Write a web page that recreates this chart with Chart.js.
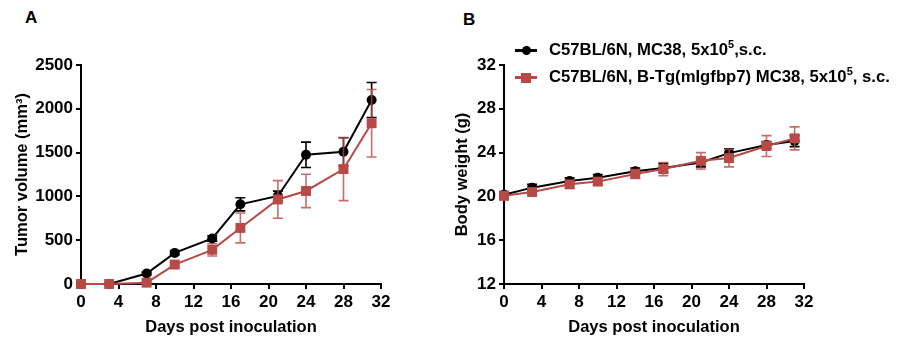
<!DOCTYPE html>
<html>
<head>
<meta charset="utf-8">
<script src="https://cdn.jsdelivr.net/npm/chart.js@4.4.1/dist/chart.umd.min.js"></script>
<style>
  html, body { margin: 0; padding: 0; background: #fff; }
  #wrap { position: relative; width: 898px; height: 343px; font-family: "Liberation Sans", Arial, sans-serif; }
  .panel { position: absolute; top: 0; width: 449px; height: 343px; }
  .tag { position: absolute; font-weight: bold; font-size: 17px; line-height: 1; color: #000; }
  .leg { position: absolute; left: 515px; font-weight: bold; font-size: 16.7px; line-height: 20px; color: #000; white-space: nowrap; }
  .leg .ln { position: absolute; left: 0; top: 9px; width: 22px; height: 3px; }
  .leg .mk { position: absolute; }
  .leg .tx { position: absolute; left: 34px; top: 0; }
  .leg sup { font-size: 11px; line-height: 0; }
</style>
</head>
<body>
<div id="wrap">
  <div class="tag" style="left:25px; top:9px;">A</div>
  <div class="tag" style="left:463px; top:11px;">B</div>
  <div class="panel" style="left:0;"><canvas id="chartTumor" width="449" height="343"></canvas></div>
  <div class="panel" style="left:449px;"><canvas id="chartPeso" width="449" height="343"></canvas></div>
  <div class="leg" style="top:40px;">
    <div class="ln" style="background:#000;"></div>
    <div class="mk" style="left:7px; top:6px; width:9px; height:9px; border-radius:50%; background:#000;"></div>
    <div class="tx">C57BL/6N, MC38, 5x10<sup>5</sup>,s.c.</div>
  </div>
  <div class="leg" style="top:67px;">
    <div class="ln" style="background:#B84946;"></div>
    <div class="mk" style="left:6px; top:6px; width:10px; height:10px; background:#B84946;"></div>
    <div class="tx">C57BL/6N, B-Tg(mIgfbp7) MC38, 5x10<sup>5</sup>, s.c.</div>
  </div>
</div>
<script>
// Datos
const dias = [0, 3, 7, 10, 14, 17, 21, 24, 28, 31];

const tumorControl = [0, 0, 120, 355, 520, 910, 1005, 1475, 1510, 2100];
const tumorControlErr = [0, 0, 15, 20, 30, 75, 55, 145, 160, 200];
const tumorTg = [0, 0, 15, 222, 390, 640, 965, 1062, 1312, 1835];
const tumorTgErr = [0, 0, 10, 25, 70, 170, 215, 190, 360, 385];

const pesoControl = [20.15, 20.8, 21.4, 21.7, 22.3, 22.6, 23.1, 23.95, 24.7, 25.05];
const pesoControlErr = [0.3, 0.3, 0.3, 0.3, 0.3, 0.4, 0.4, 0.4, 0.3, 0.5];
const pesoTg = [20.05, 20.4, 21.1, 21.35, 22.05, 22.5, 23.25, 23.5, 24.6, 25.3];
const pesoTgErr = [0.3, 0.3, 0.3, 0.3, 0.4, 0.6, 0.75, 0.8, 0.95, 1.05];

const tumorTicks = [0, 500, 1000, 1500, 2000, 2500];
const pesoTicks = [12, 16, 20, 24, 28, 32];
const diasTicks = [0, 4, 8, 12, 16, 20, 24, 28, 32];

const COLOR_NEGRO = '#000000';
const COLOR_ROJO = '#B84946';
const FUENTE = '"Liberation Sans", Arial, sans-serif';

// barras de error dibujadas con las escalas de la gráfica
const barrasError = {
    id: 'barrasError',
    beforeDatasetDraw(chart, args) {
        const ds = chart.data.datasets[args.index];
        if (!ds.errores) return;
        const meta = args.meta;
        const yScale = chart.scales[meta.yAxisID];
        const ctx = chart.ctx;
        ctx.save();
        ctx.strokeStyle = ds.colorError || ds.borderColor;
        ctx.lineWidth = 1.6;
        meta.data.forEach((pt, i) => {
            const e = ds.errores[i];
            if (!e) return;
            const v = ds.data[i].y;
            const yTop = yScale.getPixelForValue(v + e);
            const yBot = yScale.getPixelForValue(v - e);
            ctx.beginPath();
            ctx.moveTo(pt.x, yTop); ctx.lineTo(pt.x, yBot);
            ctx.moveTo(pt.x - 5, yTop); ctx.lineTo(pt.x + 5, yTop);
            ctx.moveTo(pt.x - 5, yBot); ctx.lineTo(pt.x + 5, yBot);
            ctx.stroke();
        });
        ctx.restore();
    }
};

function puntos(vals) {
    return dias.map((d, i) => ({ x: d, y: vals[i] }));
}

function serie(vals, errs, color, estilo, radio, orden, colorErr) {
    return {
        data: puntos(vals),
        errores: errs,
        colorError: colorErr,
        borderColor: color,
        backgroundColor: color,
        borderWidth: 2,
        pointStyle: estilo,
        pointRadius: radio,
        pointHoverRadius: radio,
        pointBorderWidth: 0,
        order: orden,
        clip: false
    };
}

function ejes(yMin, yMax, yTicks, yTitulo, yAncho, yPadTitulo) {
    const grid = { drawOnChartArea: false, drawTicks: true, tickLength: 5, color: '#000', lineWidth: 2 };
    const fuenteTick = { family: FUENTE, size: 17, weight: 'bold' };
    const fuenteTitulo = { family: FUENTE, size: 16.5, weight: 'bold' };
    return {
        x: {
            type: 'linear', min: 0, max: 32,
            afterBuildTicks: s => { s.ticks = diasTicks.map(v => ({ value: v })); },
            afterFit: s => { s.height = 59; },
            grid: grid,
            border: { color: '#000', width: 2 },
            ticks: { color: '#000', font: fuenteTick, padding: 3, maxRotation: 0, callback: v => String(v) },
            title: { display: true, text: 'Days post inoculation', color: '#000', font: fuenteTitulo, padding: { top: 0, bottom: 6 } }
        },
        y: {
            type: 'linear', min: yMin, max: yMax,
            afterBuildTicks: s => { s.ticks = yTicks.map(v => ({ value: v })); },
            afterFit: s => { s.width = yAncho; },
            grid: grid,
            border: { color: '#000', width: 2 },
            ticks: { color: '#000', font: fuenteTick, padding: 3, callback: v => String(v) },
            title: { display: true, text: yTitulo, color: '#000', font: fuenteTitulo, padding: { top: yPadTitulo, bottom: 0 } }
        }
    };
}

document.addEventListener('DOMContentLoaded', function() {
    try {
        new Chart(document.getElementById('chartTumor').getContext('2d'), {
            type: 'line',
            data: {
                datasets: [
                    serie(tumorControl, tumorControlErr, COLOR_NEGRO, 'circle', 5, 2, COLOR_NEGRO),
                    serie(tumorTg, tumorTgErr, COLOR_ROJO, 'rect', 7, 1, 'rgba(184, 73, 70, 0.8)')
                ]
            },
            options: {
                responsive: false,
                animation: false,
                layout: { padding: { left: 0, right: 68, top: 65, bottom: 0 } },
                plugins: { legend: { display: false }, tooltip: { enabled: false } },
                scales: ejes(0, 2500, tumorTicks, 'Tumor volume (mm³)', 81, 13)
            },
            plugins: [barrasError]
        });
    } catch (e) { console.error('Error en chartTumor:', e); }

    try {
        new Chart(document.getElementById('chartPeso').getContext('2d'), {
            type: 'line',
            data: {
                datasets: [
                    serie(pesoControl, pesoControlErr, COLOR_NEGRO, 'circle', 5, 2, COLOR_NEGRO),
                    serie(pesoTg, pesoTgErr, COLOR_ROJO, 'rect', 7, 1, 'rgba(184, 73, 70, 0.8)')
                ]
            },
            options: {
                responsive: false,
                animation: false,
                layout: { padding: { left: 0, right: 94, top: 65, bottom: 0 } },
                plugins: { legend: { display: false }, tooltip: { enabled: false } },
                scales: ejes(12, 32, pesoTicks, 'Body weight (g)', 55, 4)
            },
            plugins: [barrasError]
        });
    } catch (e) { console.error('Error en chartPeso:', e); }
});
</script>
</body>
</html>
